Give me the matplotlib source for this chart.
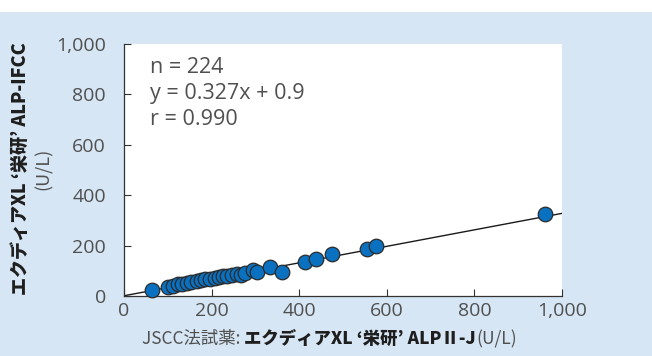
import matplotlib
matplotlib.use("Agg")
import matplotlib.pyplot as plt
import numpy as np
from matplotlib.patches import Rectangle

plt.rcParams['font.family'] = ['Noto Sans CJK JP', 'DejaVu Sans']

# data
x_vals = [63, 101, 112, 124, 133, 143, 152, 166, 175, 185, 196, 208, 218, 227,
          236, 246, 257, 268, 276, 295, 303, 333, 360, 413, 438, 474, 554, 575, 961]
y_vals = [24, 37, 40, 46, 47, 50, 55, 60, 62, 67, 68, 70, 75, 81,
          80, 83, 88, 83, 90, 103, 96, 116, 96, 136, 146, 167, 185, 198, 325]
slope, intercept = 0.327, 0.9
stats_lines = ["n = 224", "y = 0.327x + 0.9", "r = 0.990"]
ticks = [0, 200, 400, 600, 800, 1000]
tick_labels = ["0", "200", "400", "600", "800", "1,000"]

bg = '#d6e6f4'
txt = '#505050'
latin = ['Open Sans', 'DejaVu Sans']

fig = plt.figure(figsize=(6.52, 3.56), dpi=100)
fig.patch.set_facecolor('white')
fig.patches.append(Rectangle((0, 0), 1, (356 - 12) / 356, transform=fig.transFigure,
                             facecolor=bg, edgecolor='none', zorder=-10))

ax = fig.add_axes([124 / 652, 60 / 356, 438 / 652, 252 / 356])
ax.set_facecolor('white')
ax.set_xlim(0, 1000)
ax.set_ylim(0, 1000)

xl = np.array([0, 1000])
ax.plot(xl, slope * xl + intercept, color='#1a1a1a', lw=1.0, zorder=2)
ax.scatter(x_vals, y_vals, s=110, color='#0a70c0', edgecolors='#2b2b2b',
           linewidths=0.9, zorder=3, clip_on=False)

for s in ['top', 'right']:
    ax.spines[s].set_visible(False)
for s in ['left', 'bottom']:
    ax.spines[s].set_color('#333333')
    ax.spines[s].set_linewidth(0.9)

ax.set_xticks(ticks)
ax.set_yticks(ticks)
ax.set_xticklabels(tick_labels, family=latin, fontsize=14, color=txt)
ax.set_yticklabels(tick_labels, family=latin, fontsize=14, color=txt)
ax.tick_params(direction='in', length=5, width=0.8, colors='#333333')
ax.tick_params(axis='y', pad=13, labelcolor=txt)
ax.tick_params(axis='x', pad=4, labelcolor=txt)

for i, line in enumerate(stats_lines):
    ax.text(0.06, 0.905 - i * 0.103, line, transform=ax.transAxes,
            family=latin, fontsize=15.5, color=txt, va='center', ha='left')

# y label: bold first line, normal second line
fig.text(20 / 652, 0.527, "エクディアXL ‘栄研’ ALP-IFCC", rotation=90,
         fontsize=13, fontweight='heavy', color='#1e1e1e', ha='center', va='center')
fig.text(44 / 652, 0.527, "(U/L)", rotation=90,
         fontsize=13, color=txt, ha='center', va='center')

# x label built from pieces
t1 = fig.text(142 / 652, 12 / 356, "JSCC法試薬: ", fontsize=12.5, color=txt,
              ha='left', va='baseline')
t2 = ax.annotate("エクディアXL ‘栄研’ ALPⅡ-J", xy=(1, 0), xycoords=t1,
                 fontsize=12.5, fontweight='heavy', color='#1e1e1e',
                 ha='left', va='bottom', annotation_clip=False)
t3 = ax.annotate("(U/L)", xy=(1, 0), xycoords=t2,
                 fontsize=12.5, color=txt, ha='left', va='bottom',
                 annotation_clip=False)

fig.savefig('out.png', dpi=100)
